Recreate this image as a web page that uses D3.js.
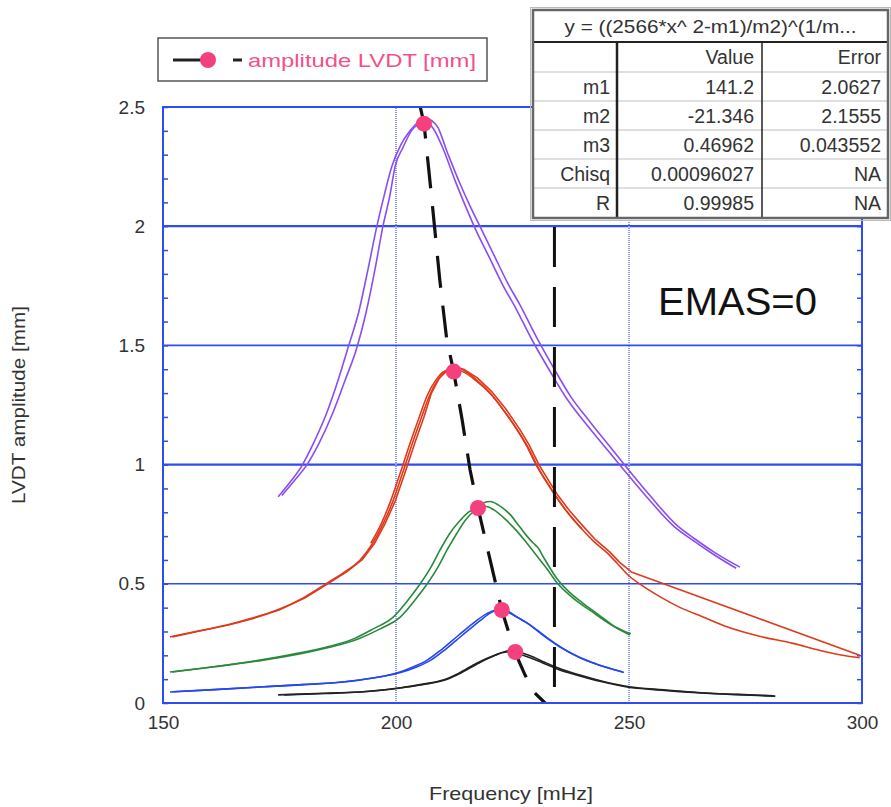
<!DOCTYPE html>
<html>
<head>
<meta charset="utf-8">
<script src="https://cdn.jsdelivr.net/npm/d3@7"></script>
<style>
  body { margin: 0; background: #fff; }
  svg { display: block; }
  text { font-family: "Liberation Sans", Arial, sans-serif; }
</style>
</head>
<body>
<div id="chart"></div>
<script>
// frequency sweeps, [freq mHz, amplitude mm]
const purpleA = [[174.7,0.865],[177.2,0.925],[179.8,0.995],[182.3,1.09],[185,1.21],[187.5,1.35],[189.7,1.49],[192,1.64],[194,1.82],[195.9,2.0],[197.6,2.14],[199.1,2.25],[201,2.34],[203,2.40],[205,2.44],[206.5,2.45],[208.8,2.42],[211,2.31],[213.7,2.18],[216,2.08],[218,2.0],[221,1.88],[224,1.76],[226.6,1.67],[230,1.54],[233.7,1.41],[237.5,1.285],[241.6,1.18],[245.5,1.085],[249.2,0.995],[254.5,0.87],[260.3,0.745],[264,0.69],[268.5,0.63],[273.8,0.57]];
const purpleB = [[175.5,0.87],[178.3,0.935],[180.9,1.0],[183.5,1.09],[186.3,1.21],[189,1.35],[191.6,1.49],[193.6,1.64],[195.5,1.82],[197.2,2.0],[198.7,2.13],[199.8,2.25],[201.5,2.33],[203.3,2.40],[205,2.43],[206.2,2.44],[208,2.41],[210,2.33],[212.7,2.19],[215,2.08],[217,1.99],[220,1.87],[223,1.75],[225.6,1.66],[229,1.53],[232.8,1.40],[236.7,1.275],[240.8,1.17],[244.8,1.075],[248.6,0.985],[254,0.86],[259.7,0.74],[263.5,0.685],[268,0.625],[273,0.565]];

const redA = [[151.5,0.277],[157,0.30],[163.7,0.327],[169,0.355],[174.5,0.39],[180,0.44],[185.2,0.503],[189,0.55],[192.3,0.60],[195,0.67],[197.2,0.75],[199.4,0.85],[201.5,0.97],[203.7,1.10],[205.5,1.20],[207.2,1.29],[208.8,1.35],[210.5,1.39],[212.2,1.405],[214,1.40],[217,1.36],[220.2,1.30],[223,1.23],[226,1.145],[228,1.08],[230.3,0.99],[232.2,0.93],[234.1,0.872],[236.8,0.80],[239.5,0.738],[242.3,0.68],[245.3,0.63],[247.5,0.585],[249.8,0.537],[253,0.49],[256.7,0.445],[261,0.40],[266,0.36],[271,0.32],[278,0.28],[285.2,0.25],[291,0.22],[297.4,0.195],[299.5,0.19]];
const redB = [[299.5,0.20],[250.5,0.55],[248,0.59],[245.8,0.635],[242.8,0.685],[240,0.745],[237.3,0.805],[234.6,0.875],[232.7,0.935],[230.8,0.995],[228.5,1.085],[226.5,1.15],[223.5,1.235],[220.6,1.305],[217.4,1.365],[214.5,1.40],[212.6,1.41],[211,1.395],[209.2,1.36],[207.6,1.30],[206,1.20],[204.2,1.10],[202,0.97],[199.9,0.85],[197.6,0.75],[195.4,0.67],[192.7,0.60],[189.4,0.55],[185.6,0.503],[180.4,0.44],[174.9,0.39],[169.4,0.355],[164,0.327],[157.4,0.30],[152,0.277]];
const redC = [[194.6,0.67],[196.8,0.75],[198.9,0.85],[201,0.97],[203.2,1.10],[205,1.20],[206.7,1.29],[208.4,1.35],[210.2,1.39],[212,1.40],[214.3,1.39],[217.3,1.35],[220.6,1.29],[223.4,1.22],[226.4,1.135],[228.4,1.07],[230.7,0.98],[232.6,0.92],[234.5,0.862],[237.2,0.79],[239.9,0.73]];

const greenA = [[151.5,0.13],[160,0.15],[170.8,0.18],[178,0.205],[185.2,0.235],[191,0.27],[195,0.31],[199.4,0.36],[202.5,0.43],[205.2,0.50],[207.5,0.57],[209.4,0.64],[211.5,0.71],[213.5,0.76],[215.5,0.80],[217.5,0.82],[219.1,0.825],[221,0.81],[223.5,0.77],[226,0.72],[228.1,0.67],[230.5,0.61],[232.5,0.56],[234.6,0.503],[238,0.44],[242.3,0.38],[246,0.33],[250.2,0.285]];
const greenB = [[152,0.13],[161,0.152],[171.5,0.18],[179,0.205],[186,0.235],[192,0.27],[196.5,0.31],[200.9,0.36],[204,0.43],[206.7,0.50],[209,0.57],[210.9,0.64],[213,0.71],[215,0.77],[217,0.81],[218.8,0.84],[220.2,0.845],[222,0.83],[224.5,0.79],[226.5,0.74],[228.1,0.70],[229.5,0.67],[230.3,0.655],[232,0.60],[234.6,0.52],[237.2,0.465],[240,0.42],[243.5,0.37],[247,0.32],[250.4,0.29]];

const blueA = [[151.5,0.046],[160,0.055],[170.8,0.067],[180,0.077],[188.6,0.088],[195,0.105],[200.2,0.126],[203.5,0.15],[206.7,0.18],[209.5,0.22],[212.2,0.264],[215,0.31],[217.4,0.348],[219.5,0.375],[221.7,0.39],[223.5,0.385],[225.5,0.365],[228.1,0.336],[231.5,0.285],[235.2,0.235],[239,0.195],[242.3,0.168],[245.5,0.147],[248.7,0.13]];
const blueB = [[152,0.047],[161,0.056],[171.5,0.068],[181,0.078],[189.5,0.09],[195.8,0.107],[201,0.128],[204.3,0.15],[207.5,0.18],[210.3,0.22],[213,0.264],[215.8,0.31],[218.2,0.348],[220.3,0.378],[222.3,0.392],[224,0.385],[226,0.36],[228.6,0.33],[232,0.28],[235.7,0.23],[239.5,0.19],[242.8,0.165],[246,0.145],[248.9,0.128]];

const blackA = [[174.7,0.034],[183,0.04],[192.3,0.046],[200.9,0.063],[205.5,0.078],[210.1,0.096],[213.5,0.125],[217.4,0.168],[220.5,0.195],[223.8,0.214],[225.5,0.21],[228,0.195],[231.5,0.168],[235,0.14],[238.9,0.117],[244,0.09],[249.6,0.067],[257,0.054],[265.3,0.042],[273,0.035],[281.4,0.029]];
const blackB = [[176,0.034],[185,0.04],[193.5,0.048],[201.5,0.065],[206.5,0.08],[211,0.10],[214.3,0.13],[218.2,0.172],[221.3,0.20],[224.5,0.22],[226.3,0.214],[228.8,0.198],[232,0.17],[235.5,0.142],[239.3,0.118],[244.5,0.09],[250,0.068],[257.5,0.055],[265.5,0.043],[273.5,0.036],[281,0.03]];

// resonance peaks and the backbone through them
const peaks = [[206,2.43],[212.4,1.39],[217.6,0.818],[222.7,0.39],[225.6,0.214]];
const backbone = [[205.2,2.5],[206,2.433],[207.7,2.11],[209.4,1.774],[210.9,1.523],[212.4,1.388],[214.2,1.187],[215.9,0.977],[217.6,0.818],[220.2,0.60],[222.7,0.39],[225.5,0.214],[227.7,0.117],[229.8,0.042],[232,0]];
const verticalFreq = 234.0;

const xTicks = [150, 200, 250, 300];
const yTicks = [0, 0.5, 1, 1.5, 2, 2.5];
const yTickLabels = ["0", "0.5", "1", "1.5", "2", "2.5"];

const tableTitle = "y = ((2566*x^ 2-m1)/m2)^(1/m...";
const tableHeader = ["", "Value", "Error"];
const tableRows = [
  ["m1", "141.2", "2.0627"],
  ["m2", "-21.346", "2.1555"],
  ["m3", "0.46962", "0.043552"],
  ["Chisq", "0.00096027", "NA"],
  ["R", "0.99985", "NA"]
];

const W = 891, H = 807;
const blue = "#2d4cf2";
const pink = "#f5407e";

const svg = d3.select("#chart").append("svg")
  .attr("width", W).attr("height", H);

const x = d3.scaleLinear().domain([150, 300]).range([163, 862]);
const y = d3.scaleLinear().domain([0, 2.5]).range([703, 107]);

// grid
const grid = svg.append("g");
grid.selectAll("line.h")
  .data([0.5, 1, 1.5, 2])
  .join("line")
    .attr("x1", x(150)).attr("x2", x(300))
    .attr("y1", d => y(d)).attr("y2", d => y(d))
    .attr("stroke", blue)
    .attr("stroke-width", d => d % 1 === 0 ? 2.2 : 1.6);
grid.selectAll("line.v")
  .data([200, 250])
  .join("line")
    .attr("x1", d => x(d)).attr("x2", d => x(d))
    .attr("y1", y(0)).attr("y2", y(2.5))
    .attr("stroke", "#8d9cf2")
    .attr("stroke-width", 2)
    .attr("stroke-dasharray", "1,1");

// minor ticks, inward on both sides
const minor = d3.range(0, 2.51, 0.1);
svg.append("g")
  .attr("transform", `translate(${x(150)},0)`)
  .call(d3.axisRight(y).tickValues(minor).tickSize(5).tickFormat(""))
  .call(g => g.select(".domain").remove())
  .selectAll("line").attr("stroke", blue).attr("stroke-width", 1.5);
svg.append("g")
  .attr("transform", `translate(${x(300)},0)`)
  .call(d3.axisLeft(y).tickValues(minor).tickSize(5).tickFormat(""))
  .call(g => g.select(".domain").remove())
  .selectAll("line").attr("stroke", blue).attr("stroke-width", 1.5);

// curves
const line = d3.line().x(d => x(d[0])).y(d => y(d[1])).curve(d3.curveMonotoneX);
const rawLine = d3.line().x(d => x(d[0])).y(d => y(d[1]));
const curves = [
  [purpleA, "#8a4df2"], [purpleB, "#8a4df2"],
  [redA, "#de3a1b"], [redB, "#de3a1b"], [redC, "#de3a1b"],
  [greenA, "#2a8a3c"], [greenB, "#2a8a3c"],
  [blueA, "#2448ee"], [blueB, "#2448ee"],
  [blackA, "#222"], [blackB, "#222"]
];
svg.append("g")
  .selectAll("path")
  .data(curves)
  .join("path")
    // redB doubles back at 300 mHz, so it is drawn point to point
    .attr("d", d => d[0] === redB ? rawLine(d[0]) : line(d[0]))
    .attr("fill", "none")
    .attr("stroke", d => d[1])
    .attr("stroke-width", 1.6)
    .attr("stroke-linejoin", "round");

// backbone and vertical dashed line
svg.append("path")
  .attr("d", rawLine(backbone))
  .attr("fill", "none")
  .attr("stroke", "#111")
  .attr("stroke-width", 3.2)
  .attr("stroke-dasharray", "32,18");
svg.append("line")
  .attr("x1", x(verticalFreq)).attr("x2", x(verticalFreq))
  .attr("y1", y(2.5)).attr("y2", y(0))
  .attr("stroke", "#111")
  .attr("stroke-width", 3)
  .attr("stroke-dasharray", "40,20");

svg.append("g")
  .selectAll("circle")
  .data(peaks)
  .join("circle")
    .attr("cx", d => x(d[0])).attr("cy", d => y(d[1]))
    .attr("r", 8)
    .attr("fill", pink);

// frame
svg.append("rect")
  .attr("x", x(150)).attr("y", y(2.5))
  .attr("width", x(300) - x(150)).attr("height", y(0) - y(2.5))
  .attr("fill", "none")
  .attr("stroke", blue)
  .attr("stroke-width", 2);

// tick labels
svg.append("g")
  .attr("transform", `translate(${x(150) - 15},0)`)
  .call(d3.axisLeft(y).tickValues(yTicks).tickSize(0).tickFormat((d, i) => yTickLabels[i]))
  .call(g => g.select(".domain").remove())
  .selectAll("text")
    .attr("font-size", 19)
    .attr("font-family", "Liberation Sans, Arial, sans-serif")
    .attr("fill", "#333");
svg.append("g")
  .attr("transform", `translate(0,${y(0) + 9})`)
  .call(d3.axisBottom(x).tickValues(xTicks).tickSize(0))
  .call(g => g.select(".domain").remove())
  .selectAll("text")
    .attr("font-size", 19)
    .attr("font-family", "Liberation Sans, Arial, sans-serif")
    .attr("fill", "#333");

svg.append("text")
  .attr("x", 429).attr("y", 800)
  .attr("font-size", 19)
  .attr("fill", "#333")
  .attr("textLength", 164)
  .attr("lengthAdjust", "spacingAndGlyphs")
  .text("Frequency  [mHz]");
svg.append("text")
  .attr("transform", "translate(25,405) rotate(-90)")
  .attr("text-anchor", "middle")
  .attr("font-size", 18)
  .attr("fill", "#333")
  .attr("textLength", 198)
  .attr("lengthAdjust", "spacingAndGlyphs")
  .text("LVDT amplitude [mm]");

// fit table
const tb = svg.append("g");
const tx0 = 533, tx1 = 888, ty0 = 10, ty1 = 218;
const rowY = [42, 72, 101, 130, 159, 188, 218];
const colX = [617, 762];
tb.append("rect")
  .attr("x", tx0).attr("y", ty0).attr("width", tx1 - tx0).attr("height", ty1 - ty0)
  .attr("fill", "#fff");
tb.selectAll("line.row")
  .data(rowY.slice(1, -1))
  .join("line")
    .attr("x1", tx0).attr("x2", tx1)
    .attr("y1", d => d).attr("y2", d => d)
    .attr("stroke", "#d4d4d4").attr("stroke-width", 1.5);
tb.append("line")
  .attr("x1", tx0).attr("x2", tx1).attr("y1", rowY[0]).attr("y2", rowY[0])
  .attr("stroke", "#222").attr("stroke-width", 2.2);
tb.append("line")
  .attr("x1", colX[0]).attr("x2", colX[0]).attr("y1", rowY[0]).attr("y2", ty1)
  .attr("stroke", "#222").attr("stroke-width", 2.5);
tb.append("line")
  .attr("x1", colX[1]).attr("x2", colX[1]).attr("y1", rowY[0]).attr("y2", ty1)
  .attr("stroke", "#222").attr("stroke-width", 1.5);
tb.append("rect")
  .attr("x", tx0).attr("y", ty0).attr("width", tx1 - tx0).attr("height", ty1 - ty0)
  .attr("fill", "none").attr("stroke", "#666").attr("stroke-width", 2.5);
tb.append("rect")
  .attr("x", tx0 - 2.5).attr("y", ty0 - 2.5).attr("width", tx1 - tx0 + 5).attr("height", ty1 - ty0 + 5)
  .attr("fill", "none").attr("stroke", "#bbb").attr("stroke-width", 1);
tb.append("text")
  .attr("x", (tx0 + tx1) / 2).attr("y", 33)
  .attr("text-anchor", "middle").attr("font-size", 19).attr("fill", "#333")
  .attr("textLength", 292)
  .attr("lengthAdjust", "spacingAndGlyphs")
  .text(tableTitle);
const colRight = [610, 754, 881];
const cells = [tableHeader].concat(tableRows);
cells.forEach((row, r) => {
  row.forEach((v, c) => {
    tb.append("text")
      .attr("x", colRight[c])
      .attr("y", rowY[r] + 22)
      .attr("text-anchor", "end")
      .attr("font-size", 19.5)
      .attr("fill", "#333")
      .text(v);
  });
});

// legend
const lg = svg.append("g");
lg.append("rect")
  .attr("x", 158).attr("y", 38).attr("width", 329).attr("height", 43)
  .attr("fill", "#fff").attr("stroke", "#555").attr("stroke-width", 1.5);
lg.append("line")
  .attr("x1", 173).attr("x2", 208).attr("y1", 60).attr("y2", 60)
  .attr("stroke", "#222").attr("stroke-width", 3);
lg.append("circle").attr("cx", 208).attr("cy", 60).attr("r", 8).attr("fill", pink);
lg.append("line")
  .attr("x1", 233).attr("x2", 242).attr("y1", 60).attr("y2", 60)
  .attr("stroke", "#222").attr("stroke-width", 3);
lg.append("text")
  .attr("x", 248).attr("y", 67)
  .attr("font-size", 19)
  .attr("fill", "#f2508a")
  .attr("textLength", 228)
  .attr("lengthAdjust", "spacingAndGlyphs")
  .text("amplitude LVDT [mm]");

svg.append("text")
  .attr("x", 658).attr("y", 315)
  .attr("font-family", "Open Sans, sans-serif")
  .attr("font-size", 38)
  .attr("fill", "#111")
  .attr("textLength", 159)
  .attr("lengthAdjust", "spacingAndGlyphs")
  .text("EMAS=0");
</script>
</body>
</html>
